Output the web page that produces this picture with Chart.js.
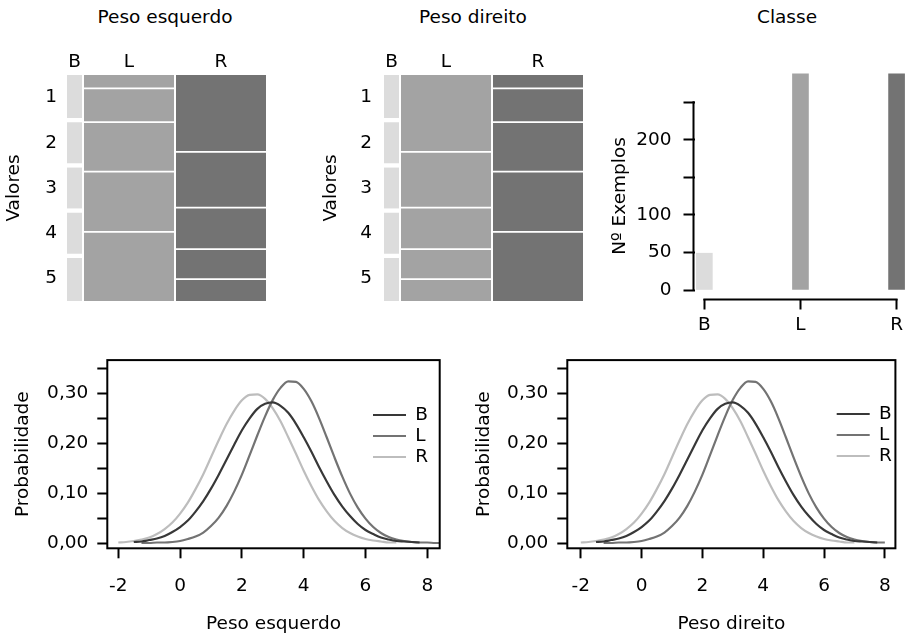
<!DOCTYPE html>
<html lang="pt">
<head>
<meta charset="utf-8">
<title>Balança</title>
<script src="https://cdn.jsdelivr.net/npm/chart.js@4.4.1/dist/chart.umd.min.js"></script>
<style>
  html, body { margin: 0; padding: 0; background: #fff; }
  #pagina { position: relative; width: 908px; height: 639px; overflow: hidden; }
  canvas { position: absolute; }
  .titulo { position: absolute; font: 18.5px "DejaVu Sans"; color: #000; line-height: 22px;
            transform: translateX(-50%); white-space: nowrap; }
</style>
</head>
<body>
<div id="pagina">
  <div class="titulo" style="left:165px; top:6px">Peso esquerdo</div>
  <div class="titulo" style="left:473px; top:6px">Peso direito</div>
  <div class="titulo" style="left:787px; top:6px">Classe</div>
</div>
<script>
const classes = ["B", "L", "R"];
const classCounts = [49, 288, 288];
const valores = ["1", "2", "3", "4", "5"];

const esqB = [10, 10, 10, 10, 10];
const esqL = [17, 43, 63, 77, 88];
const esqR = [98, 71, 53, 38, 28];
const dirB = [10, 10, 10, 10, 10];
const dirL = [98, 71, 53, 38, 28];
const dirR = [17, 43, 63, 77, 88];

const countTicks = [0, 50, 100, 150, 200, 250];
const countLabels = ["0", "50", "100", "", "200", ""];

const pesoX = [-2, -1.75, -1.5, -1.25, -1, -0.75, -0.5, -0.25, 0, 0.25, 0.5, 0.75, 1, 1.25, 1.5, 1.75,
  2, 2.25, 2.5, 2.75, 3, 3.25, 3.5, 3.75, 4, 4.25, 4.5, 4.75, 5, 5.25, 5.5, 5.75,
  6, 6.25, 6.5, 6.75, 7, 7.25, 7.5, 7.75, 8, 8.25, 8.5];
const pesoTicks = [-2, 0, 2, 4, 6, 8];
const probTicks = [0, 0.05, 0.1, 0.15, 0.2, 0.25, 0.3, 0.35];
const probLabels = ["0,00", "", "0,10", "", "0,20", "", "0,30", ""];

const densEsqB = [null, null, 0.002, 0.003, 0.006, 0.009, 0.014, 0.022, 0.032, 0.045, 0.063, 0.084,
  0.109, 0.137, 0.167, 0.197, 0.226, 0.250, 0.269, 0.279, 0.282, 0.275, 0.261, 0.239, 0.212, 0.183,
  0.152, 0.123, 0.096, 0.073, 0.054, 0.038, 0.026, 0.018, 0.011, 0.007, 0.004, 0.003, 0.002, 0.001,
  null, null, null];
const densEsqL = [null, null, null, 0.000, 0.000, 0.001, 0.001, 0.002, 0.004, 0.008, 0.013, 0.021,
  0.034, 0.051, 0.074, 0.103, 0.137, 0.176, 0.216, 0.254, 0.287, 0.311, 0.324, 0.323, 0.309, 0.284,
  0.250, 0.211, 0.171, 0.133, 0.099, 0.071, 0.049, 0.032, 0.020, 0.012, 0.007, 0.004, 0.002, 0.001,
  0.001, 0.000, 0.000];
const densEsqR = [0.001, 0.002, 0.004, 0.007, 0.011, 0.018, 0.028, 0.041, 0.059, 0.081, 0.108, 0.138,
  0.172, 0.206, 0.238, 0.265, 0.286, 0.297, 0.298, 0.289, 0.270, 0.244, 0.212, 0.179, 0.145, 0.114,
  0.086, 0.063, 0.044, 0.030, 0.020, 0.013, 0.008, 0.005, 0.003, 0.001, 0.001,
  null, null, null, null, null, null];
const densDirB = [null, null, 0.002, 0.003, 0.006, 0.009, 0.014, 0.022, 0.032, 0.045, 0.063, 0.084,
  0.109, 0.137, 0.167, 0.197, 0.226, 0.250, 0.269, 0.279, 0.282, 0.275, 0.261, 0.239, 0.212, 0.183,
  0.152, 0.123, 0.096, 0.073, 0.054, 0.038, 0.026, 0.018, 0.011, 0.007, 0.004, 0.003, 0.002, 0.001,
  null, null, null];
const densDirL = [null, null, null, 0.000, 0.000, 0.001, 0.001, 0.002, 0.004, 0.008, 0.013, 0.021,
  0.034, 0.051, 0.074, 0.103, 0.137, 0.176, 0.216, 0.254, 0.287, 0.311, 0.324, 0.323, 0.309, 0.284,
  0.250, 0.211, 0.171, 0.133, 0.099, 0.071, 0.049, 0.032, 0.020, 0.012, 0.007, 0.004, 0.002, 0.001,
  0.001, null, null];
const densDirR = [0.001, 0.002, 0.004, 0.007, 0.011, 0.018, 0.028, 0.041, 0.059, 0.081, 0.108, 0.138,
  0.172, 0.206, 0.238, 0.265, 0.286, 0.297, 0.298, 0.289, 0.270, 0.244, 0.212, 0.179, 0.145, 0.114,
  0.086, 0.063, 0.044, 0.030, 0.020, 0.013, 0.008, 0.005, 0.003, 0.001, 0.001,
  null, null, null, null, null, null];

const cores = ["#dcdcdc", "#a3a3a3", "#737373"];
const linhas = ["#383838", "#737373", "#bdbdbd"];

Chart.defaults.font.family = '"DejaVu Sans", sans-serif';
Chart.defaults.font.size = 18.5;
Chart.defaults.color = "#000";

const pagina = document.getElementById("pagina");
function novoCanvas(x, y, w, h) {
  const cv = document.createElement("canvas");
  cv.width = w; cv.height = h;
  cv.style.left = x + "px"; cv.style.top = y + "px";
  cv.style.width = w + "px"; cv.style.height = h + "px";
  pagina.appendChild(cv);
  return cv;
}

// caixa em volta da área e eixos "à moda do R" (linha só entre o primeiro e o último tick)
const eixosR = {
  id: "eixosR",
  afterDraw(chart, args, opts) {
    const { ctx, chartArea: a } = chart;
    ctx.save();
    ctx.strokeStyle = "#000";
    ctx.lineWidth = 2;
    ctx.lineCap = "square";
    if (opts.caixa) ctx.strokeRect(a.left, a.top, a.right - a.left, a.bottom - a.top);
    if (opts.spans) {
      const sx = chart.scales.x, sy = chart.scales.y;
      const tx = sx.ticks, ty = sy.ticks;
      ctx.beginPath();
      ctx.moveTo(sx.getPixelForValue(tx[0].value), a.bottom + 1);
      ctx.lineTo(sx.getPixelForValue(tx[tx.length - 1].value), a.bottom + 1);
      ctx.moveTo(a.left - 1, sy.getPixelForValue(ty[0].value));
      ctx.lineTo(a.left - 1, sy.getPixelForValue(ty[ty.length - 1].value));
      ctx.stroke();
    }
    ctx.restore();
  }
};

// legenda dentro do gráfico, num ponto fixo
const dentro = {
  id: "dentro",
  afterLayout(chart, args, opts) {
    const lg = chart.legend;
    lg.left = opts.x; lg.top = opts.y;
    lg.right = chart.chartArea.right; lg.bottom = chart.chartArea.bottom;
  }
};

function mosaico(x0, contagens, padTick) {
  const total = classCounts.reduce((s, v) => s + v, 0);
  const util = 199 - 2 * 2;
  let x = x0;
  classes.forEach((cls, k) => {
    const w = classCounts[k] / total * util;
    const primeira = k === 0;
    const eixoW = primeira ? 67 : 0;
    const esq = Math.round(x) - eixoW;
    const larg = Math.round(x + w) - Math.round(x) + eixoW;
    const cv = novoCanvas(esq, 40, larg, 261);
    const dados = contagens[k];
    const soma = dados.reduce((s, v) => s + v, 0);
    const gap = primeira ? 2.5 : 1.2;
    const centros = [];
    let acc = 0;
    dados.forEach(v => { centros.push(acc + v / 2); acc += v; });
    new Chart(cv, {
      type: "bar",
      data: {
        labels: [cls],
        datasets: dados.map((v, i) => ({
          label: valores[i],
          data: [v],
          backgroundColor: cores[k],
          borderColor: "#fff",
          borderSkipped: false,
          borderWidth: { top: i === 0 ? 0 : gap, bottom: i === dados.length - 1 ? 0 : gap, left: 0, right: 0 },
          grouped: false,
          barPercentage: 1,
          categoryPercentage: 1
        }))
      },
      options: {
        responsive: false,
        animation: false,
        plugins: { legend: { display: false }, tooltip: { enabled: false } },
        scales: {
          x: {
            position: "top", stacked: true,
            grid: { display: false, drawTicks: false }, border: { display: false },
            ticks: { padding: 2 },
            afterFit: s => { s.height = 35; s.paddingLeft = 0; s.paddingRight = 0; }
          },
          y: {
            display: primeira, stacked: true, reverse: true, min: 0, max: soma,
            grid: { display: false, drawTicks: false }, border: { display: false },
            ticks: { padding: padTick, autoSkip: false, callback: (v, i) => valores[i] },
            afterBuildTicks: s => { s.ticks = centros.map(v => ({ value: v })); },
            afterFit: s => { s.width = primeira ? 67 : 0; s.paddingTop = 0; s.paddingBottom = 0; },
            title: { display: true, text: "Valores", padding: { top: 3, bottom: 0 } }
          }
        }
      }
    });
    x += w + 2;
  });
}

mosaico(67, [esqB, esqL, esqR], 10);
mosaico(384, [dirB, dirL, dirR], 12);

// Classe
new Chart(novoCanvas(600, 40, 308, 303), {
  type: "bar",
  data: {
    datasets: [{
      label: "Classe",
      data: classCounts.map((c, i) => ({ x: i, y: c })),
      backgroundColor: cores,
      barThickness: 16,
      clip: false
    }]
  },
  options: {
    responsive: false,
    animation: false,
    layout: { padding: { top: 53.5 } },
    plugins: { legend: { display: false }, tooltip: { enabled: false }, eixosR: { spans: true } },
    scales: {
      x: {
        type: "linear", min: -0.1026, max: 2.0872, offset: false,
        border: { display: false },
        grid: { drawOnChartArea: false, offset: false, tickLength: 11, tickWidth: 2, tickColor: "#000" },
        ticks: { padding: 5, autoSkip: false, maxRotation: 0, callback: v => classes[v] },
        afterBuildTicks: s => { s.ticks = classes.map((c, i) => ({ value: i })); },
        afterFit: s => { s.height = 44.5; }
      },
      y: {
        min: -11.32, max: 261.7,
        border: { display: false },
        grid: { drawOnChartArea: false, tickLength: 11, tickWidth: 2, tickColor: "#000" },
        ticks: { padding: 12, autoSkip: false, callback: (v, i) => countLabels[i] },
        afterBuildTicks: s => { s.ticks = countTicks.map(v => ({ value: v })); },
        afterFit: s => { s.width = 94.5; s.paddingTop = 0; },
        title: { display: true, text: "Nº Exemplos", padding: { top: 9, bottom: 0 } }
      }
    }
  },
  plugins: [eixosR]
});

function densidade(x, w, padDir, rotulo, curvas, xMin, xMax, padTitulo, legenda) {
  new Chart(novoCanvas(x, 340, w, 299), {
    type: "line",
    data: {
      datasets: curvas.map((ys, k) => ({
        label: classes[k],
        data: pesoX.map((px, i) => ({ x: px, y: ys[i] })),
        borderColor: linhas[k],
        backgroundColor: linhas[k],
        borderWidth: 2.2,
        pointRadius: 0,
        cubicInterpolationMode: "monotone",
        spanGaps: false
      }))
    },
    options: {
      responsive: false,
      animation: false,
      layout: { padding: { top: 20, right: padDir } },
      plugins: {
        tooltip: { enabled: false },
        legend: {
          position: "chartArea", fullSize: false, align: "start",
          labels: { usePointStyle: true, pointStyle: "line", pointStyleWidth: 33, padding: 2.5,
                    color: "#000", font: { size: 18.5 } }
        },
        dentro: legenda,
        eixosR: { caixa: true }
      },
      scales: {
        x: {
          type: "linear", min: xMin, max: xMax, offset: false,
          border: { display: false },
          grid: { drawOnChartArea: false, offset: false, tickLength: 10, tickWidth: 2, tickColor: "#000" },
          ticks: { padding: 17, autoSkip: false, maxRotation: 0, callback: v => String(v) },
          afterBuildTicks: s => { s.ticks = pesoTicks.map(v => ({ value: v })); },
          afterFit: s => { s.height = 90.7; },
          title: { display: true, text: rotulo, padding: { top: 0, bottom: 4 } }
        },
        y: {
          min: -0.0106, max: 0.3667,
          border: { display: false },
          grid: { drawOnChartArea: false, tickLength: 10, tickWidth: 2, tickColor: "#000" },
          ticks: { padding: 9, autoSkip: false, callback: (v, i) => probLabels[i] },
          afterBuildTicks: s => { s.ticks = probTicks.map(v => ({ value: v })); },
          afterFit: s => { s.width = 107.3; },
          title: { display: true, text: "Probabilidade", padding: { top: padTitulo, bottom: 0 } }
        }
      }
    },
    plugins: [eixosR, dentro]
  });
}

densidade(0, 454, 14.3, "Peso esquerdo", [densEsqB, densEsqL, densEsqR], -2.356, 8.401, 12, { x: 370.5, y: 63.25 });
densidade(460, 448, 8, "Peso direito", [densDirB, densDirL, densDirR], -2.444, 8.347, 13, { x: 374.2, y: 62.25 });
</script>
</body>
</html>
